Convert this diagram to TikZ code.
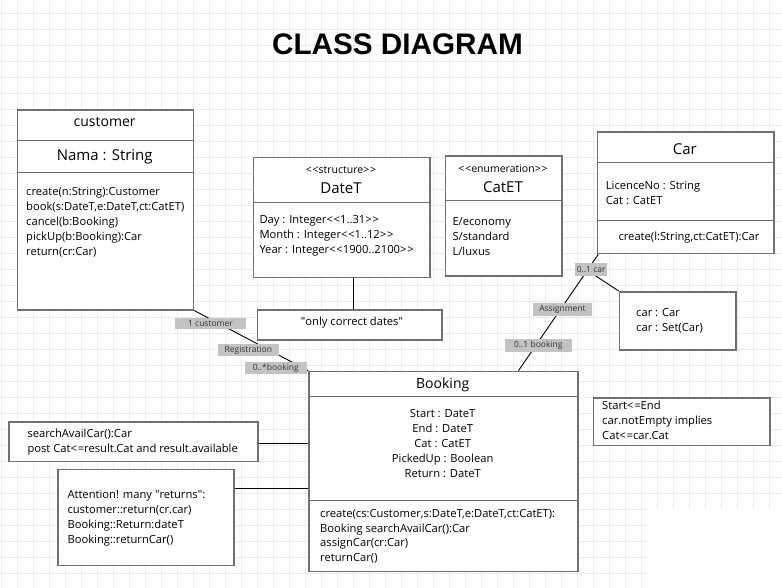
\documentclass[tikz,border=0pt]{standalone}
\usepackage{fontspec}
\setmainfont{Open Sans}
\newfontfamily\titlefont{Liberation Sans}
\usetikzlibrary{calc}
\definecolor{gridc}{HTML}{EBEBEB}
\definecolor{boxc}{HTML}{707070}
\definecolor{labc}{HTML}{C3C3C3}
\definecolor{labt}{HTML}{333333}
\tikzset{
  gridst/.style={draw=gridc, line width=1pt},
  boxst/.style={draw=boxc, line width=1.6pt, fill=white, inner sep=0pt, anchor=north west},
  divst/.style={draw=boxc, line width=1.3pt},
  conn/.style={draw=black, line width=0.9pt},
  lab/.style={fill=labc, inner sep=0pt, text=labt, font=\fontsize{8.5}{10}\selectfont},
  txt/.style={inner sep=0pt, align=left, anchor=base west, font=\fontsize{11.2}{15}\selectfont},
  ctxt/.style={inner sep=0pt, align=center, anchor=base, font=\fontsize{11.2}{15}\selectfont},
  head/.style={inner sep=0pt, font=\fontsize{14}{16}\selectfont},
  stereo/.style={inner sep=0pt, font=\fontsize{10.5}{12}\selectfont},
}
\newcommand\mybox[5]{\node[boxst, minimum width={(#4-#2)*1pt}, minimum height={(#5-#3)*1pt}] (#1) at (#2,#3) {};}
\newcommand\mylab[6]{\node[lab, minimum width={#4*1pt}, minimum height={#5*1pt}] (#1) at (#2,#3) {#6};}
\newcommand\dlt{<\kern0.8pt<}
\newcommand\dgt{>\kern0.8pt>}
\newcommand\qq{\textquotedbl}
\begin{document}
\begin{tikzpicture}[x=1pt,y=-1pt]
\useasboundingbox (0,0) rectangle (782,588);
\fill[white] (0,0) rectangle (782,588);
% grid
\foreach \gx in {1.5,17.5,...,782} \draw[gridst] (\gx,0) -- (\gx,588);
\foreach \gy in {13.5,29.5,...,588} \draw[gridst] (0,\gy) -- (782,\gy);
\fill[white] (648.5,508.5) rectangle (782,588);

% title
\node[inner sep=0pt, font=\titlefont\bfseries\fontsize{29.7}{31}\selectfont] (title) at (397.5,44.5) {CLASS DIAGRAM};

% ---- customer
\mybox{cust}{16.7}{109}{192.7}{309}
\draw[divst] (16.7,140.7) -- (192.7,140.7);
\draw[divst] (16.7,172.3) -- (192.7,172.3);
\node[head] (custh) at (104.7,122) {customer};
\node[head, font=\fontsize{15}{17}\selectfont] (custa) at (104.7,156.7) {Nama : String};
\node[txt] (custm) at (26,255.7) {create(n:String):Customer\\book(s:DateT,e:DateT,ct:CatET)\\cancel(b:Booking)\\pickUp(b:Booking):Car\\return(cr:Car)};

% ---- DateT
\mybox{dt}{252.7}{156.7}{429.3}{276.7}
\draw[divst] (252.7,202.3) -- (429.3,202.3);
\node[stereo] (dts) at (341,170) {\dlt structure\dgt};
\node[head, font=\fontsize{15}{17}\selectfont] (dth) at (341,188.3) {DateT};
\node[txt] (dta) at (259.3,254) {Day : Integer\dlt 1..31\dgt\\Month : Integer\dlt 1..12\dgt\\Year : Integer\dlt 1900..2100\dgt};

% ---- note only correct dates
\mybox{oc}{256.7}{309}{441}{339}
\node[inner sep=0pt, font=\fontsize{11.2}{13}\selectfont] (oct) at (352,322.5) {\qq only correct dates\qq};
\draw[conn] ($(dt.south west)+(100.6,0)$) coordinate (dtc) -- (dtc |- oc.north);

% ---- CatET
\mybox{cat}{444.7}{155}{561.3}{275}
\draw[divst] (444.7,200.7) -- (561.3,200.7);
\node[stereo] (cats) at (503,169) {\dlt enumeration\dgt};
\node[head, font=\fontsize{15}{17}\selectfont] (cath) at (503,186.7) {CatET};
\node[txt] (cata) at (452.3,255.7) {E/economy\\S/standard\\L/luxus};

% ---- Car
\mybox{car}{596.7}{131}{773}{252.7}
\draw[divst] (596.7,162.7) -- (773,162.7);
\draw[divst] (596.7,220.7) -- (773,220.7);
\node[head, font=\fontsize{15}{17}\selectfont] (carh) at (684.8,149) {Car};
\node[txt] (cara) at (605.7,204.7) {LicenceNo : String\\Cat : CatET};
\node[ctxt] (carm) at (689,240.7) {create(l:String,ct:CatET):Car};

% ---- car note
\mybox{cn}{618.7}{291}{735.3}{349}
\node[txt] (cnt) at (636,331.3) {car : Car\\car : Set(Car)};

% ---- Booking
\mybox{bk}{308.3}{370.7}{577}{570.7}
\draw[divst] (308.3,396.3) -- (577,396.3);
\draw[divst] (308.3,500.7) -- (577,500.7);
\node[head] (bkh) at (442.7,385) {Booking};
\node[ctxt] (bka) at (442.7,477.3) {Start : DateT\\End : DateT\\Cat : CatET\\PickedUp : Boolean\\Return : DateT};
\node[txt, font=\fontsize{11.2}{14.8}\selectfont] (bkm) at (320,561.7) {create(cs:Customer,s:DateT,e:DateT,ct:CatET):\\Booking searchAvailCar():Car\\assignCar(cr:Car)\\returnCar()};

% ---- constraint note
\mybox{cons}{592.7}{397}{769}{444.7}
\node[txt, font=\fontsize{11.2}{14.8}\selectfont] (const) at (602,439.3) {Start<\kern0.8pt=End\\car.notEmpty implies\\Cat<\kern0.8pt=car.Cat};

% ---- search note
\mybox{sn}{8.3}{421}{257}{460.7}
\node[txt, font=\fontsize{11.2}{15.4}\selectfont] (snt) at (27.3,452.7) {searchAvailCar():Car\\post Cat<\kern0.8pt=result.Cat and result.available};
\draw[conn] (sn.east |- 0,443) -- (bk.west |- 0,443);

% ---- attention note
\mybox{an}{57}{468.7}{233}{564.7}
\node[txt] (ant) at (67.3,543) {Attention! many \qq returns\qq:\\customer::return(cr.car)\\Booking::Return:dateT\\Booking::returnCar()};
\draw[conn] (an.east |- 0,488) -- (bk.west |- 0,488);

% ---- association customer - booking
\draw[conn] (cust.south east) -- (bk.north west);
\mylab{l1}{210.5}{323.5}{71}{11.5}{1 customer}
\mylab{l2}{248.3}{350}{60.7}{12.3}{Registration}
\mylab{l3}{275.8}{367.8}{61.7}{11.7}{0..*booking}

% ---- association car - booking
\draw[conn] ($(car.south west)+(1.6,0)$) -- coordinate[pos=0.138] (cl) ($(bk.north)+(75,0)$);
\draw[conn] (cl) -- (cn.north west);
\mylab{l4}{591.2}{269.2}{32.3}{13}{0..1 car}
\mylab{l5}{562.5}{309.2}{59.7}{13}{Assignment}
\mylab{l6}{538.3}{345.3}{66.7}{12.7}{0..1 booking}
\end{tikzpicture}
\end{document}
